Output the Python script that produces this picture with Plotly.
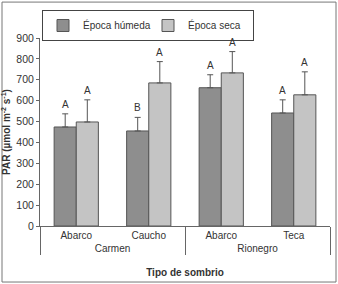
import plotly.graph_objects as go

sites = ["Carmen", "Carmen", "Rionegro", "Rionegro"]
species = ["Abarco", "Caucho", "Abarco", "Teca"]
humeda = [474, 455, 662, 541]
humeda_err = [63, 65, 62, 63]
seca = [498, 685, 733, 628]
seca_err = [106, 102, 102, 110]
letters_humeda = ["A", "B", "A", "A"]
letters_seca = ["A", "A", "A", "A"]
yticks = [0, 100, 200, 300, 400, 500, 600, 700, 800, 900]

FONT = "Liberation Sans, Arial, sans-serif"
DARK = "#8e8e8e"
LIGHT = "#c4c4c4"
EDGE = "#555555"

fig = go.Figure()
fig.add_trace(go.Bar(
    x=[sites, species], y=humeda, name="Época húmeda",
    marker=dict(color=DARK, line=dict(color=EDGE, width=1)),
    error_y=dict(type="data", array=humeda_err, symmetric=False,
                 arrayminus=[0] * 4, color=EDGE, thickness=1, width=3),
))
fig.add_trace(go.Bar(
    x=[sites, species], y=seca, name="Época seca",
    marker=dict(color=LIGHT, line=dict(color=EDGE, width=1)),
    error_y=dict(type="data", array=seca_err, symmetric=False,
                 arrayminus=[0] * 4, color=EDGE, thickness=1, width=3),
))

bargap = 0.39
half = (1 - bargap) / 4
annotations = []
for i in range(4):
    annotations.append(dict(x=i - half, y=humeda[i] + humeda_err[i], text=letters_humeda[i],
                            xref="x", yref="y", showarrow=False, yanchor="bottom", yshift=2,
                            font=dict(size=10, color="#333")))
    annotations.append(dict(x=i + half, y=seca[i] + seca_err[i], text=letters_seca[i],
                            xref="x", yref="y", showarrow=False, yanchor="bottom", yshift=2,
                            font=dict(size=10, color="#333")))

fig.update_layout(
    width=338, height=284,
    margin=dict(l=40, r=8, t=38, b=58, autoexpand=False),
    paper_bgcolor="white", plot_bgcolor="white",
    barmode="group", bargap=bargap, bargroupgap=0,
    font=dict(family=FONT, size=10, color="#333"),
    showlegend=True,
    legend=dict(orientation="h", xref="container", yref="container",
                x=42 / 338, y=1 - 10 / 284, xanchor="left", yanchor="top",
                bordercolor="#444", borderwidth=1, font=dict(size=10),
                itemwidth=30, tracegroupgap=0, entrywidth=60, entrywidthmode="pixels"),
    annotations=annotations,
    xaxis=dict(type="multicategory", automargin=False, showline=True, linecolor="#666",
               linewidth=1, ticks="", showdividers=True, dividercolor="#666", dividerwidth=1,
               tickfont=dict(size=10),
               title=dict(text="<b>Tipo de sombrio</b>", font=dict(size=10))),
    yaxis=dict(range=[0, 900], automargin=False, tickvals=yticks, showline=True,
               linecolor="#666", linewidth=1, ticks="outside", ticklen=3, tickcolor="#666",
               showgrid=False, zeroline=False, tickfont=dict(size=10.5),
               title=dict(text="<b>PAR (µmol m<sup>-2</sup> s<sup>-1</sup>)</b>",
                          font=dict(size=10))),
    shapes=[dict(type="rect", xref="paper", yref="paper",
                 x0=-0.131, x1=1.0207, y0=-0.298, y1=1.191,
                 line=dict(color="#777", width=1), fillcolor="rgba(0,0,0,0)")],
)

fig.write_html("out.html", config={"displayModeBar": False},
               post_script="document.body.style.margin='0';document.body.style.padding='0';")
